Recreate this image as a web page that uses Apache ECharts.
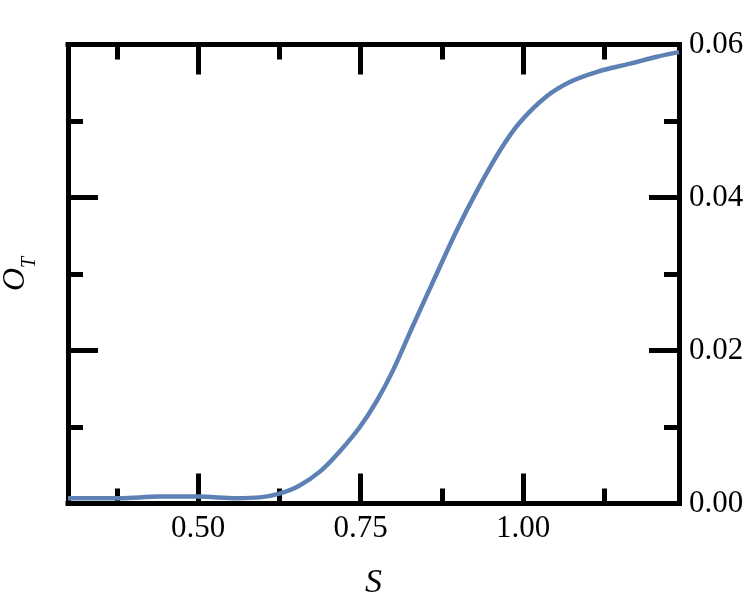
<!DOCTYPE html>
<html>
<head>
<meta charset="utf-8">
<script src="https://cdn.jsdelivr.net/npm/echarts@6/dist/echarts.min.js"></script>
<style>
html,body{margin:0;padding:0;background:#fff;}
#chart{width:747px;height:603px;}
</style>
</head>
<body>
<div id="chart"></div>
<script>
// Data
var sValues = [0.30, 0.34, 0.38, 0.44, 0.50, 0.56, 0.595, 0.625, 0.655, 0.688, 0.718, 0.749, 0.775, 0.80, 0.831, 0.867, 0.898, 0.93, 0.965, 0.995, 1.036, 1.072, 1.113, 1.165, 1.206, 1.24];
var oValues = [0.0007, 0.0007, 0.0007, 0.0009, 0.0009, 0.0007, 0.0008, 0.0013, 0.0023, 0.0042, 0.0068, 0.0100, 0.0134, 0.0174, 0.0233, 0.0300, 0.0357, 0.0410, 0.0462, 0.0498, 0.0532, 0.0551, 0.0564, 0.0575, 0.0584, 0.0590];
var xMajorTicks = [0.50, 0.75, 1.00];
var xMinorTicks = [0.375, 0.625, 0.875, 1.125];
var xRange = [0.30, 1.24];
var yRange = [0, 0.06];
var yInterval = 0.02;

var FONT = 'Liberation Serif';
var chart = echarts.init(document.getElementById('chart'), null, {renderer: 'canvas'});

var lineStyleAxis = {color: '#000', width: 5, cap: 'square'};
var tickStyle = {color: '#000', width: 5};

function xAxisDef(pos, ticks, len, showLabel, showLine) {
  return {
    type: 'value', position: pos, min: xRange[0], max: xRange[1],
    axisLine: {show: showLine, onZero: false, lineStyle: lineStyleAxis},
    axisTick: {show: true, inside: true, length: len, customValues: ticks, lineStyle: tickStyle},
    axisLabel: {show: showLabel, customValues: ticks, margin: 10,
      fontFamily: FONT, fontSize: 31, color: '#000',
      formatter: function (v) { return v.toFixed(2); }},
    splitLine: {show: false}
  };
}

var xAxes = [
  xAxisDef('bottom', xMajorTicks, 30, true, true),
  xAxisDef('bottom', xMinorTicks, 15, false, false),
  xAxisDef('top', xMajorTicks, 30, false, true),
  xAxisDef('top', xMinorTicks, 15, false, false)
];
xAxes[0].name = 'S';
xAxes[0].nameLocation = 'middle';
xAxes[0].nameGap = 63;
xAxes[0].nameTextStyle = {fontFamily: FONT, fontStyle: 'italic', fontSize: 34, color: '#000'};

function yAxisDef(pos, showLabel) {
  return {
    type: 'value', position: pos, min: yRange[0], max: yRange[1], interval: yInterval,
    axisLine: {show: true, onZero: false, lineStyle: lineStyleAxis},
    axisTick: {show: true, inside: true, length: 30, lineStyle: tickStyle},
    minorTick: {show: true, splitNumber: 2, length: 15, lineStyle: tickStyle},
    axisLabel: {show: showLabel, margin: 10, fontFamily: FONT, fontSize: 31, color: '#000',
      formatter: function (v) { return v.toFixed(2); }},
    splitLine: {show: false}, minorSplitLine: {show: false}
  };
}
var yAxes = [yAxisDef('left', false), yAxisDef('right', true)];
yAxes[0].name = '{o|O}{t|T}';
yAxes[0].nameLocation = 'middle';
yAxes[0].nameRotate = 90;
yAxes[0].nameGap = 28;
yAxes[0].nameTextStyle = {
  color: '#000',
  rich: {
    o: {fontFamily: FONT, fontStyle: 'italic', fontSize: 32, color: '#000', verticalAlign: 'top', lineHeight: 40},
    t: {fontFamily: FONT, fontStyle: 'italic', fontSize: 20, color: '#000', verticalAlign: 'bottom'}
  }
};

var seriesData = sValues.map(function (s, i) { return [s, oValues[i]]; });

chart.setOption({
  animation: false,
  backgroundColor: '#fff',
  grid: {left: 68, right: 68, top: 44.5, bottom: 99.5, containLabel: false, outerBoundsMode: 'none'},
  xAxis: xAxes,
  yAxis: yAxes,
  series: [{
    type: 'line', xAxisIndex: 0, yAxisIndex: 0,
    data: seriesData, smooth: 0.35, showSymbol: false, symbol: 'none',
    lineStyle: {color: '#5E81B5', width: 4.5},
    z: 1
  }]
});
</script>
</body>
</html>
